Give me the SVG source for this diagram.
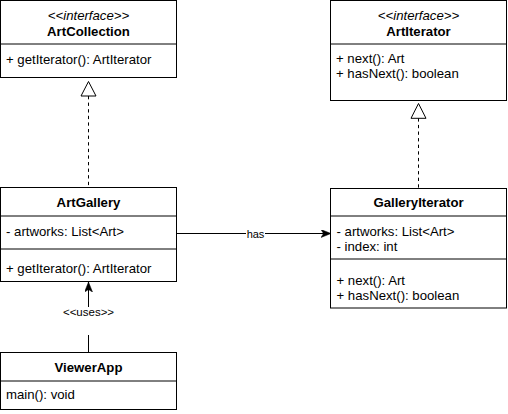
<svg xmlns="http://www.w3.org/2000/svg" width="508" height="414" viewBox="0 0 508 414">
<style>
  .box { fill: #ffffff; stroke: #000000; stroke-width: 1; }
  .div { stroke: #000000; stroke-width: 1; }
  .t { font-family: "Liberation Sans", Arial, sans-serif; font-size: 13.2px; fill: #000000; }
  .b { font-weight: bold; text-anchor: middle; }
  .i { font-style: italic; text-anchor: middle; }
  .edge { fill: none; stroke: #000000; stroke-width: 1; }
  .dash { stroke-dasharray: 3.3 3.3; }
  .lbl { font-family: "Liberation Sans", Arial, sans-serif; fill: #000000; text-anchor: middle; }
</style>
<defs>
  <marker id="arrow" viewBox="0 0 10 8" refX="10" refY="4" markerWidth="10" markerHeight="8" markerUnits="userSpaceOnUse" orient="auto">
    <path d="M10,4 L0,0 L2.5,4 L0,8 Z" fill="#000000" stroke="#000000" stroke-width="0.5"/>
  </marker>
</defs>
<rect width="508" height="414" fill="#ffffff"/>

<g id="connectors">
  <!-- ArtGallery realizes ArtCollection -->
  <line class="edge dash" x1="88.5" y1="96" x2="88.5" y2="187.5"/>
  <polygon class="edge" points="88.5,81.5 81,96 96,96"/>
  <!-- GalleryIterator realizes ArtIterator -->
  <line class="edge dash" x1="418.5" y1="118.3" x2="418.5" y2="188.5"/>
  <polygon class="edge" points="418.5,103.5 411,118.3 426,118.3"/>
  <!-- has -->
  <line class="edge" x1="176.5" y1="233.5" x2="246" y2="233.5"/>
  <line class="edge" x1="265" y1="233.5" x2="331" y2="233.5" marker-end="url(#arrow)"/>
  <text class="lbl" x="255.5" y="237.5" font-size="11">has</text>
  <!-- uses -->
  <line class="edge" x1="88.5" y1="352.5" x2="88.5" y2="335"/>
  <line class="edge" x1="88.5" y1="307" x2="88.5" y2="282" marker-end="url(#arrow)"/>
  <text class="lbl" x="88.5" y="315.5" font-size="11.5">&lt;&lt;uses&gt;&gt;</text>
</g>

<g id="ArtCollection">
  <rect class="box" x="0.5" y="0.5" width="176" height="77"/>
  <line class="div" x1="0.5" y1="44" x2="176.5" y2="44"/>
  <text class="t i" x="88.5" y="20">&lt;&lt;interface&gt;&gt;</text>
  <text class="t b" x="88.5" y="35.5">ArtCollection</text>
  <text class="t" x="6" y="64">+ getIterator(): ArtIterator</text>
</g>

<g id="ArtIterator">
  <rect class="box" x="330.5" y="0.5" width="176" height="100"/>
  <line class="div" x1="330.5" y1="44" x2="506.5" y2="44"/>
  <text class="t i" x="418.5" y="20">&lt;&lt;interface&gt;&gt;</text>
  <text class="t b" x="418.5" y="35.5">ArtIterator</text>
  <text class="t" x="336" y="63">+ next(): Art</text>
  <text class="t" x="336" y="78">+ hasNext(): boolean</text>
</g>

<g id="ArtGallery">
  <rect class="box" x="0.5" y="187.5" width="176" height="94"/>
  <line class="div" x1="0.5" y1="216" x2="176.5" y2="216"/>
  <line class="div" x1="0.5" y1="249" x2="176.5" y2="249"/>
  <text class="t b" x="88.5" y="206.5">ArtGallery</text>
  <text class="t" x="6" y="236">- artworks: List&lt;Art&gt;</text>
  <text class="t" x="6" y="273">+ getIterator(): ArtIterator</text>
</g>

<g id="GalleryIterator">
  <rect class="box" x="330.5" y="188.5" width="176" height="119.5"/>
  <line class="div" x1="330.5" y1="216" x2="506.5" y2="216"/>
  <line class="div" x1="330.5" y1="259" x2="506.5" y2="259"/>
  <text class="t b" x="418.5" y="207">GalleryIterator</text>
  <text class="t" x="336.5" y="236">- artworks: List&lt;Art&gt;</text>
  <text class="t" x="336.5" y="251">- index: int</text>
  <text class="t" x="336.5" y="284.5">+ next(): Art</text>
  <text class="t" x="336.5" y="299.5">+ hasNext(): boolean</text>
</g>

<g id="ViewerApp">
  <rect class="box" x="0.5" y="352.5" width="176" height="57"/>
  <line class="div" x1="0.5" y1="381" x2="176.5" y2="381"/>
  <text class="t b" x="88.5" y="371.5">ViewerApp</text>
  <text class="t" x="6" y="399">main(): void</text>
</g>
</svg>
